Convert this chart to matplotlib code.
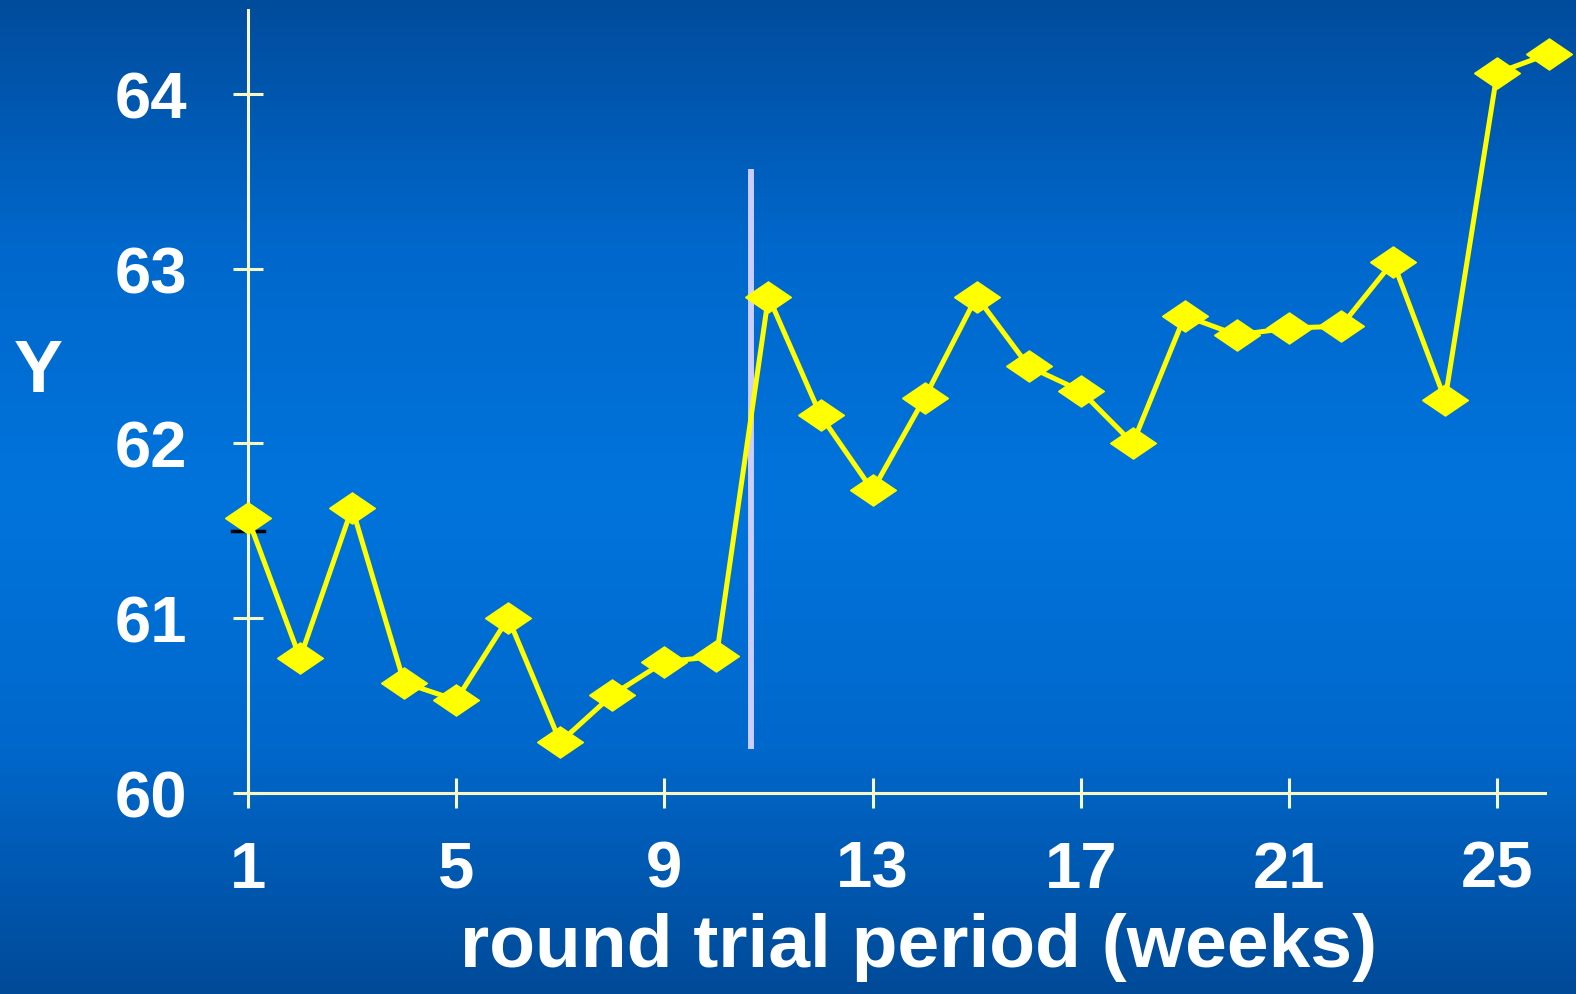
import numpy as np
import matplotlib.pyplot as plt
from matplotlib.colors import LinearSegmentedColormap

# data
weeks = list(range(1, 27))
y_vals = [61.57, 60.77, 61.63, 60.63, 60.53, 61.00, 60.29, 60.56, 60.75, 60.78,
          62.84, 62.16, 61.73, 62.26, 62.84, 62.44, 62.30, 62.00, 62.73, 62.62,
          62.66, 62.67, 63.04, 62.25, 64.12, 64.23]
x_ticks = [1, 5, 9, 13, 17, 21, 25]
y_ticks = [60, 61, 62, 63, 64]
break_x = 10.67
break_y = [60.25, 63.57]

plt.rcParams['font.family'] = ['Liberation Sans', 'DejaVu Sans']
plt.rcParams['font.weight'] = 'bold'

fig = plt.figure(figsize=(15.76, 9.95), dpi=100)

# fondo con degradado azul
bg = fig.add_axes([0, 0, 1, 1], zorder=-10)
grad = LinearSegmentedColormap.from_list('bg', ['#004c9c', '#0068cc', '#0074dc', '#0068cc', '#004a98'])
bg.imshow(np.linspace(0, 1, 256).reshape(-1, 1), aspect='auto', cmap=grad, extent=[0, 1, 0, 1])
bg.axis('off')

ax = fig.add_axes([248 / 1576, 0.2023, (1545 - 248) / 1576, 0.7866])
ax.patch.set_alpha(0)

diamond = [(-1, 0), (0, 0.68), (1, 0), (0, -0.68), (-1, 0)]
ax.plot(weeks, y_vals, color='#ffff00', lw=3.6, marker=diamond, markersize=33,
        mfc='#ffff00', mec='#ffff00', mew=1, clip_on=False, zorder=5)

ax.plot([break_x, break_x], break_y, color='#ccccff', lw=4.3, solid_capstyle='butt', zorder=4)

# pequeña marca negra junto al primer punto
ax.plot([-0.012, 0.012], [61.50, 61.50], color='black', lw=2.5,
        transform=ax.get_yaxis_transform(), clip_on=False, zorder=3)

ax.set_xlim(1, 25.92)
ax.set_ylim(60, 64.48)
ax.set_xticks(x_ticks)
ax.set_yticks(y_ticks)

spine_col = '#f8f8c4'
for s in ['top', 'right']:
    ax.spines[s].set_visible(False)
for s in ['left', 'bottom']:
    ax.spines[s].set_color(spine_col)
    ax.spines[s].set_linewidth(2.2)

ax.tick_params(direction='inout', length=22, width=2.2, color=spine_col,
               labelcolor='white', labelsize=47)
ax.tick_params(axis='y', pad=33)
ax.tick_params(axis='x', pad=23)

fig.text(919 / 1576, 1 - 948 / 995, 'round trial period (weeks)', color='white',
         fontsize=54, fontweight='bold', ha='center', va='center')
fig.text(38 / 1576, 1 - 372 / 995, 'Y', color='white',
         fontsize=53, fontweight='bold', ha='center', va='center')

fig.savefig('out.png', dpi=100)
